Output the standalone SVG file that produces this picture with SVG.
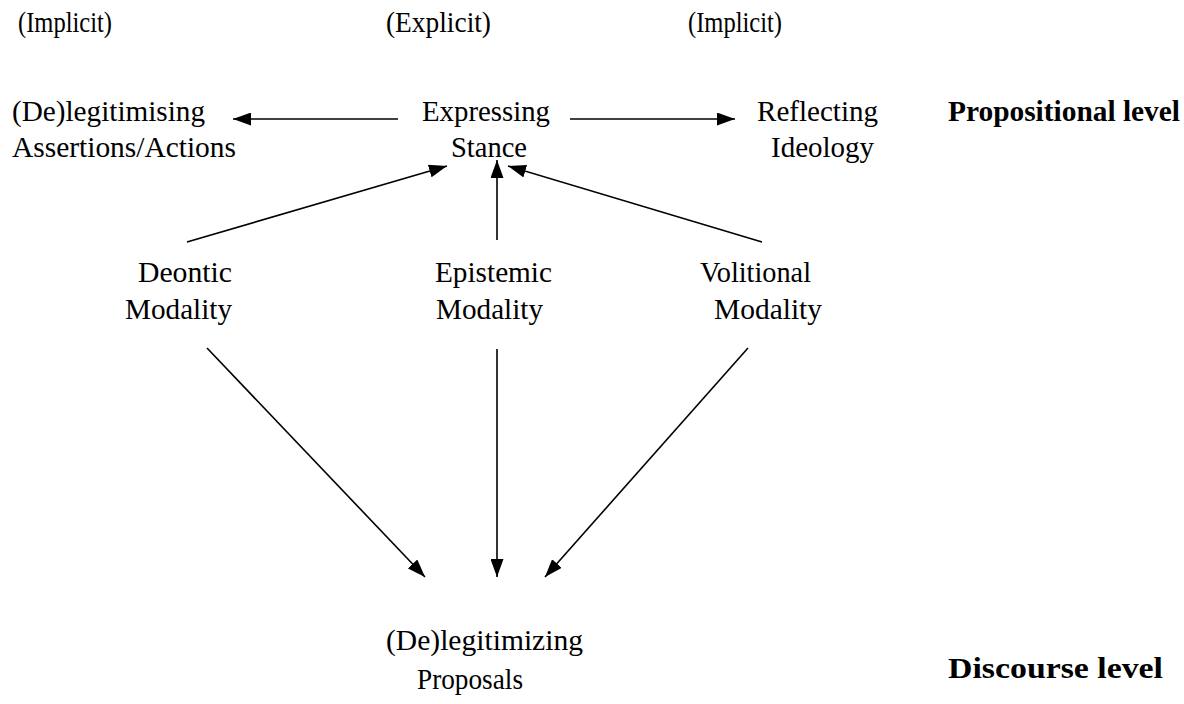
<svg xmlns="http://www.w3.org/2000/svg" width="1184" height="704" viewBox="0 0 1184 704">
  <style>
    text { font-family: "Liberation Serif", "Times New Roman", serif; font-size: 30px; fill: #000; }
    .lvl { font-weight: bold; }
    .edge { stroke: #000; stroke-width: 1.6; fill: none; marker-end: url(#head); }
  </style>
  <defs>
    <marker id="head" viewBox="0 0 18 13" refX="18" refY="6.5" markerWidth="18" markerHeight="13" markerUnits="userSpaceOnUse" orient="auto">
      <path d="M0,0 L18,6.5 L0,13 Z" fill="#000"/>
    </marker>
  </defs>

  <!-- column headings -->
  <g id="headings">
    <text x="18" y="32" textLength="94" lengthAdjust="spacingAndGlyphs">(Implicit)</text>
    <text x="386" y="32" textLength="105" lengthAdjust="spacingAndGlyphs">(Explicit)</text>
    <text x="688" y="32" textLength="94" lengthAdjust="spacingAndGlyphs">(Implicit)</text>
  </g>

  <!-- propositional level nodes -->
  <g id="delegitimising-assertions">
    <text x="12" y="121" textLength="193" lengthAdjust="spacingAndGlyphs">(De)legitimising</text>
    <text x="12" y="157" textLength="224" lengthAdjust="spacingAndGlyphs">Assertions/Actions</text>
  </g>
  <g id="expressing-stance">
    <text x="422" y="121" textLength="128" lengthAdjust="spacingAndGlyphs">Expressing</text>
    <text x="451" y="157" textLength="76" lengthAdjust="spacingAndGlyphs">Stance</text>
  </g>
  <g id="reflecting-ideology">
    <text x="757" y="121" textLength="121" lengthAdjust="spacingAndGlyphs">Reflecting</text>
    <text x="771" y="157" textLength="103" lengthAdjust="spacingAndGlyphs">Ideology</text>
  </g>
  <g id="propositional-level">
    <text class="lvl" x="948" y="121" textLength="232" lengthAdjust="spacingAndGlyphs">Propositional level</text>
  </g>

  <!-- modality nodes -->
  <g id="deontic">
    <text x="138" y="282" textLength="94" lengthAdjust="spacingAndGlyphs">Deontic</text>
    <text x="125" y="319" textLength="107" lengthAdjust="spacingAndGlyphs">Modality</text>
  </g>
  <g id="epistemic">
    <text x="435" y="282" textLength="117" lengthAdjust="spacingAndGlyphs">Epistemic</text>
    <text x="436" y="319" textLength="107" lengthAdjust="spacingAndGlyphs">Modality</text>
  </g>
  <g id="volitional">
    <text x="700" y="282" textLength="111" lengthAdjust="spacingAndGlyphs">Volitional</text>
    <text x="714" y="319" textLength="108" lengthAdjust="spacingAndGlyphs">Modality</text>
  </g>

  <!-- discourse level nodes -->
  <g id="delegitimizing-proposals">
    <text x="386" y="650" textLength="197" lengthAdjust="spacingAndGlyphs">(De)legitimizing</text>
    <text x="417" y="689" textLength="106" lengthAdjust="spacingAndGlyphs">Proposals</text>
  </g>
  <g id="discourse-level">
    <text class="lvl" x="948" y="678" textLength="215" lengthAdjust="spacingAndGlyphs">Discourse level</text>
  </g>

  <!-- connectors -->
  <g id="connectors">
    <line class="edge" x1="398" y1="119" x2="233" y2="119"/>
    <line class="edge" x1="570" y1="119" x2="735" y2="119"/>
    <line class="edge" x1="187" y1="242" x2="447" y2="166"/>
    <line class="edge" x1="497" y1="240" x2="497" y2="160"/>
    <line class="edge" x1="762" y1="242" x2="508" y2="166"/>
    <line class="edge" x1="207" y1="348" x2="425" y2="577"/>
    <line class="edge" x1="497" y1="349" x2="497" y2="577"/>
    <line class="edge" x1="748" y1="348" x2="545" y2="577"/>
  </g>
</svg>
